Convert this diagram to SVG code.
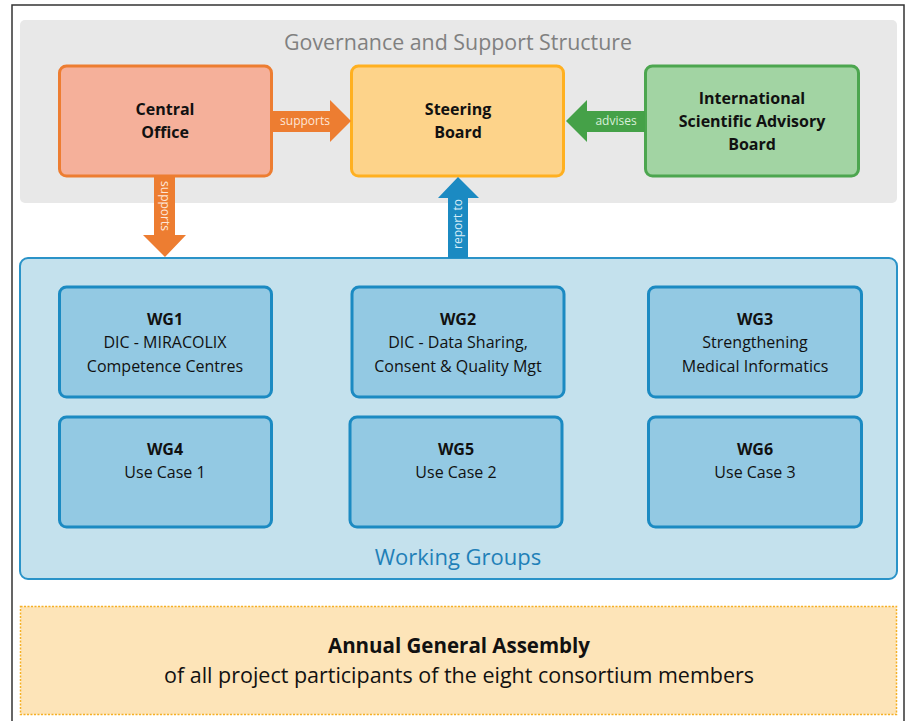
<svg xmlns="http://www.w3.org/2000/svg" width="908" height="721" viewBox="0 0 908 721">
<style>
.t{font-family:"Open Sans","Liberation Sans",sans-serif;text-anchor:middle;fill:#111}
.b{font-weight:bold}
.h{font-size:16px}
.w{font-size:16px}
.lbl{font-family:"Open Sans","Liberation Sans",sans-serif;font-size:12px;fill:#fde6d8;text-anchor:middle}
.wg{fill:#93c9e3;stroke:#1b8ac2;stroke-width:3}
</style>
<rect x="0" y="0" width="908" height="721" fill="#fff"/>
<rect x="12" y="5" width="892" height="730" fill="#fff" stroke="#333" stroke-width="1.5"/>

<g id="governance">
<rect x="20" y="20" width="877" height="183" rx="5" fill="#e8e8e8"/>
<text class="t" x="458" y="50" font-size="21" style="fill:#808080" textLength="348" lengthAdjust="spacingAndGlyphs">Governance and Support Structure</text>
</g>

<g id="working-groups">
<rect x="20" y="258" width="877" height="321" rx="8" fill="#c4e1ed" stroke="#2a93c8" stroke-width="2"/>
<text class="t" x="458" y="565" font-size="22" style="fill:#1f80b8">Working Groups</text>
</g>

<g id="central-office">
<rect x="59.5" y="66" width="212" height="110" rx="7" fill="#f5b09a" stroke="#ed7d31" stroke-width="3"/>
<text class="t b h" x="165" y="115">Central</text>
<text class="t b h" x="165" y="138">Office</text>
</g>

<g id="steering-board">
<rect x="351.5" y="66" width="212" height="110" rx="7" fill="#fdd38a" stroke="#ffb020" stroke-width="3"/>
<text class="t b h" x="458" y="115">Steering</text>
<text class="t b h" x="458" y="138">Board</text>
</g>

<g id="isab">
<rect x="645.5" y="66" width="213" height="110" rx="7" fill="#a2d4a3" stroke="#4ca64f" stroke-width="3"/>
<text class="t b h" x="752" y="104">International</text>
<text class="t b h" x="752" y="127">Scientific Advisory</text>
<text class="t b h" x="752" y="150">Board</text>
</g>

<g id="wg1">
<rect class="wg" x="59.5" y="287" width="212" height="110" rx="7"/>
<text class="t b w" x="165" y="325">WG1</text>
<text class="t w" x="165" y="348">DIC - MIRACOLIX</text>
<text class="t w" x="165" y="372">Competence  Centres</text>
</g>
<g id="wg2">
<rect class="wg" x="352" y="287" width="212" height="110" rx="7"/>
<text class="t b w" x="458" y="325">WG2</text>
<text class="t w" x="458" y="348">DIC - Data Sharing,</text>
<text class="t w" x="458" y="372">Consent  &amp; Quality Mgt</text>
</g>
<g id="wg3">
<rect class="wg" x="648.5" y="287" width="213" height="110" rx="7"/>
<text class="t b w" x="755" y="325">WG3</text>
<text class="t w" x="755" y="348">Strengthening</text>
<text class="t w" x="755" y="372">Medical Informatics</text>
</g>
<g id="wg4">
<rect class="wg" x="59.5" y="417" width="212" height="110" rx="7"/>
<text class="t b w" x="165" y="455">WG4</text>
<text class="t w" x="165" y="478">Use Case  1</text>
</g>
<g id="wg5">
<rect class="wg" x="350" y="417" width="212" height="110" rx="7"/>
<text class="t b w" x="456" y="455">WG5</text>
<text class="t w" x="456" y="478">Use Case  2</text>
</g>
<g id="wg6">
<rect class="wg" x="648.5" y="417" width="213" height="110" rx="7"/>
<text class="t b w" x="755" y="455">WG6</text>
<text class="t w" x="755" y="478">Use Case  3</text>
</g>

<g id="assembly">
<rect x="20.5" y="606.5" width="876" height="108" fill="#fde4b8" stroke="#f5b025" stroke-width="1.5" stroke-dasharray="2 1.5"/>
<text class="t b" x="459" y="653" font-size="22" textLength="262" lengthAdjust="spacingAndGlyphs">Annual General Assembly</text>
<text class="t" x="459" y="683" font-size="22" textLength="590" lengthAdjust="spacingAndGlyphs">of all project participants of the eight consortium members</text>
</g>

<g id="connectors">
<polygon points="272,111 330,111 330,100 351,121 330,142 330,132 272,132" fill="#ed7d31"/>
<text class="lbl" x="305" y="125">supports</text>
<polygon points="645,111 587,111 587,100 566,121 587,142 587,132 645,132" fill="#45a148"/>
<text class="lbl" x="616" y="125" style="fill:#d8efd8">advises</text>
<polygon points="154,176 175,176 175,235 186,235 165,257 143,235 154,235" fill="#ed7d31"/>
<text class="lbl" transform="translate(161,206) rotate(90)" x="0" y="0">supports</text>
<polygon points="448,258 468,258 468,198 479,198 458,177 438,198 448,198" fill="#1b8ac2"/>
<text class="lbl" transform="translate(462,224) rotate(-90)" x="0" y="0" style="fill:#d6ecf7">report to</text>
</g>
</svg>
